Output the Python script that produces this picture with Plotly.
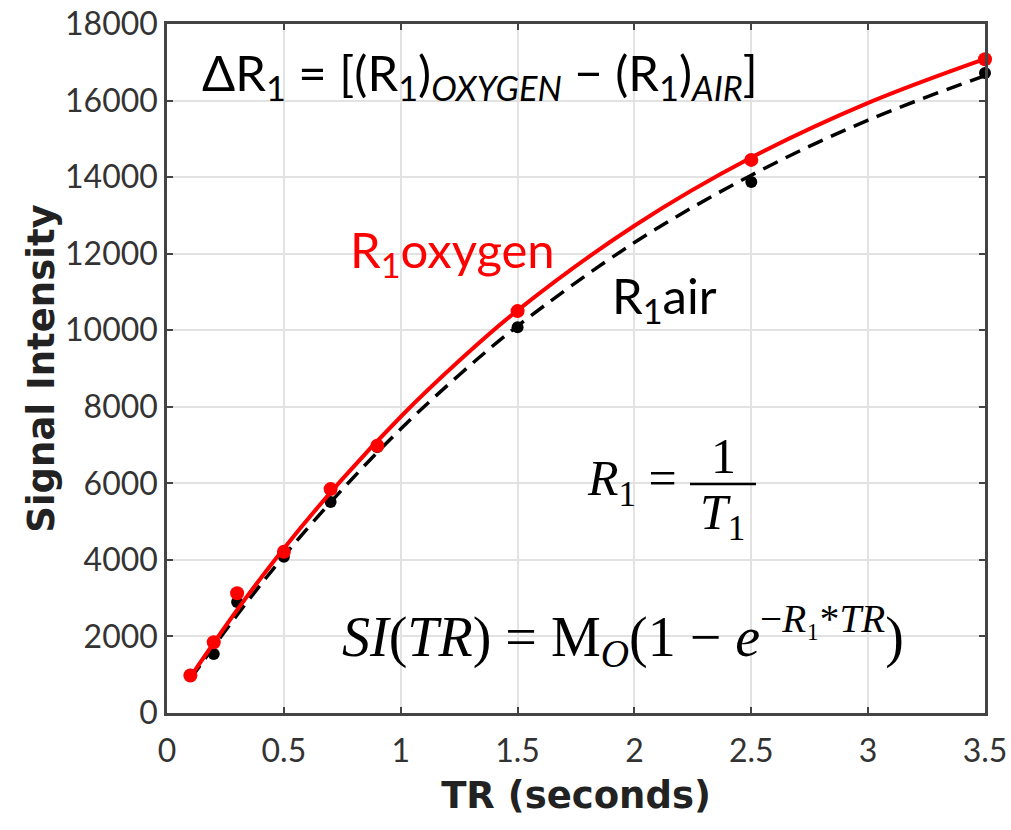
import plotly.graph_objects as go

# ---- data ----
tr_points = [0.1, 0.2, 0.3, 0.5, 0.7, 0.9, 1.5, 2.5, 3.5]
si_oxygen = [980, 1850, 3130, 4210, 5850, 6980, 10500, 14450, 17080]
si_air = [1000, 1540, 2900, 4080, 5510, 6950, 10080, 13870, 16720]

tr_curve = [0.1, 0.3, 0.5, 0.75, 1.0, 1.25, 1.5, 2.0, 2.5, 3.0, 3.5]
fit_oxygen = [940, 2690, 4300, 6110, 7740, 9200, 10520, 12730, 14510, 15940, 17090]
fit_air = [890, 2560, 4100, 5840, 7420, 8830, 10110, 12290, 14050, 15490, 16650]

x_ticks = [0, 0.5, 1, 1.5, 2, 2.5, 3, 3.5]
x_tick_text = ["0", "0.5", "1", "1.5", "2", "2.5", "3", "3.5"]
y_ticks = list(range(0, 18001, 2000))

# ---- layout geometry (pixels) ----
W, H = 1011, 830
L, R, T, B = 167, 26, 24, 117
PW, PH = W - L - R, H - T - B


def px(x):
    return (x - L) / PW


def py(y):
    return (H - B - y) / PH


fig = go.Figure()

fig.add_trace(go.Scatter(x=tr_curve, y=fit_air, mode="lines", line_shape="spline",
                         line=dict(color="black", width=3.5, dash="16px,9px"),
                         showlegend=False, hoverinfo="skip"))
fig.add_trace(go.Scatter(x=tr_points, y=si_air, mode="markers",
                         marker=dict(color="black", size=12),
                         cliponaxis=False, showlegend=False))
fig.add_trace(go.Scatter(x=tr_curve, y=fit_oxygen, mode="lines", line_shape="spline",
                         line=dict(color="#ff0000", width=4),
                         showlegend=False, hoverinfo="skip"))
fig.add_trace(go.Scatter(x=tr_points, y=si_oxygen, mode="markers",
                         marker=dict(color="#ff0000", size=14),
                         cliponaxis=False, showlegend=False))

tick_font = dict(family="Lato", size=32, color="#333333")
title_font = dict(family="DejaVu Sans", size=37, color="#222222")
axis_common = dict(showline=True, linecolor="#444444", linewidth=2.5, mirror="ticks",
                   ticks="inside", ticklen=6, tickwidth=2, tickcolor="#444444",
                   showgrid=True, gridcolor="#e2e2e2", gridwidth=1.5,
                   zeroline=False, tickfont=tick_font, automargin=False)

fig.update_xaxes(range=[0, 3.5], tickvals=x_ticks, ticktext=x_tick_text,
                 ticklabelstandoff=8,
                 title=dict(text="<b>TR (seconds)</b>", font=title_font, standoff=14),
                 **axis_common)
fig.update_yaxes(range=[0, 18000], tickvals=y_ticks, tickformat="d",
                 title=dict(text="<b>Signal Intensity</b>", font=title_font, standoff=0),
                 **axis_common)

sans = "Lato"
serif = "Liberation Serif"
ann = []
ann.append(dict(x=px(200), y=py(75), xref="paper", yref="paper", xanchor="left", yanchor="middle",
                showarrow=False,
                text="ΔR<sub>1</sub> = [(R<sub>1</sub>)<sub><i>OXYGEN</i></sub> − (R<sub>1</sub>)<sub><i>AIR</i></sub>]",
                font=dict(family=sans, size=49, color="black")))
ann.append(dict(x=px(348), y=py(252), xref="paper", yref="paper", xanchor="left", yanchor="middle",
                showarrow=False, text="R<sub>1</sub>oxygen",
                font=dict(family=sans, size=49, color="#ff0000")))
ann.append(dict(x=px(610), y=py(298), xref="paper", yref="paper", xanchor="left", yanchor="middle",
                showarrow=False, text="R<sub>1</sub>air",
                font=dict(family=sans, size=49, color="black")))
ann.append(dict(x=px(585), y=py(482), xref="paper", yref="paper", xanchor="left", yanchor="middle",
                showarrow=False, text="<i>R</i><sub>1</sub> =",
                font=dict(family=serif, size=50, color="black")))
ann.append(dict(x=px(723), y=py(456), xref="paper", yref="paper", xanchor="center", yanchor="middle",
                showarrow=False, text="1",
                font=dict(family=serif, size=50, color="black")))
ann.append(dict(x=px(722), y=py(516), xref="paper", yref="paper", xanchor="center", yanchor="middle",
                showarrow=False, text="<i>T</i><sub>1</sub>",
                font=dict(family=serif, size=50, color="black")))
ann.append(dict(x=px(340), y=py(636), xref="paper", yref="paper", xanchor="left", yanchor="middle",
                showarrow=False,
                text="<i>SI</i>(<i>TR</i>) = M<sub><i>O</i></sub>(1 − <i>e</i><sup>−<i>R</i>₁*<i>TR</i></sup>)",
                font=dict(family=serif, size=56, color="black")))

fig.update_layout(
    width=W, height=H,
    margin=dict(l=L, r=R, t=T, b=B),
    paper_bgcolor="white", plot_bgcolor="white",
    annotations=ann,
    shapes=[dict(type="line", xref="paper", yref="paper",
                 x0=px(690), x1=px(756), y0=py(484), y1=py(484),
                 line=dict(color="black", width=2.5))],
)

fig.write_html("out.html")
